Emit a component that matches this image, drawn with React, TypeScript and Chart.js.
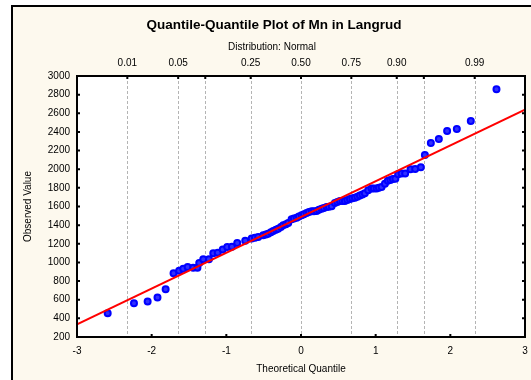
import { useEffect, useRef } from 'react';
import { Chart, registerables } from 'chart.js';

Chart.register(...registerables);

// Theoretical (normal) quantiles of the plotted points
const theoreticalQuantiles = [
  -2.589, -2.237, -2.054, -1.922, -1.813, -1.707, -1.632, -1.577, -1.518, -1.444,
  -1.387, -1.363, -1.309, -1.233, -1.175, -1.115, -1.048, -0.988, -0.925, -0.854,
  -0.747, -0.661, -0.617, -0.573, -0.506, -0.47, -0.439, -0.403, -0.372, -0.336,
  -0.305, -0.269, -0.238, -0.202, -0.171, -0.126, -0.095, -0.059, -0.028, 0.008,
  0.039, 0.075, 0.106, 0.142, 0.173, 0.209, 0.24, 0.276, 0.307, 0.343,
  0.373, 0.41, 0.454, 0.487, 0.521, 0.554, 0.588, 0.621, 0.655, 0.688,
  0.722, 0.755, 0.788, 0.822, 0.855, 0.9, 0.945, 0.976, 1.012, 1.043,
  1.079, 1.124, 1.163, 1.197, 1.23, 1.264, 1.301, 1.347, 1.395, 1.467,
  1.529, 1.605, 1.659, 1.739, 1.846, 1.957, 2.087, 2.274, 2.618,
];

const observedValues = [
  454, 561, 582, 625, 712, 883, 910, 931, 951, 944,
  942, 993, 1033, 1033, 1099, 1103, 1138, 1165, 1169, 1208,
  1232, 1258, 1265, 1272, 1291, 1300, 1309, 1325, 1337, 1350,
  1362, 1380, 1398, 1410, 1423, 1462, 1470, 1480, 1492, 1505,
  1517, 1530, 1540, 1548, 1550, 1551, 1565, 1577, 1585, 1594,
  1598, 1602, 1637, 1648, 1659, 1659, 1659, 1670, 1680, 1688,
  1695, 1705, 1717, 1730, 1741, 1774, 1792, 1792, 1792, 1800,
  1809, 1845, 1875, 1885, 1895, 1899, 1945, 1953, 1953, 1999,
  2003, 2020, 2152, 2281, 2324, 2410, 2431, 2517, 2857,
];

// Fitted normal reference line (end points at the axis limits)
const fitQuantiles = [-3, 3];
const fitValues = [336, 2640];

// Top axis: cumulative probabilities
const probLabels = ['0.01', '0.05', '0.25', '0.50', '0.75', '0.90', '0.99'];
const probLabelQuantiles = [-2.326, -1.645, -0.674, 0, 0.674, 1.282, 2.326];
const probGridQuantiles = [-2.326, -1.645, -1.282, -0.674, 0, 0.674, 1.282, 1.645, 2.326];

const titleText = 'Quantile-Quantile Plot of Mn in Langrud';
const subtitleText = 'Distribution: Normal';
const xTitle = 'Theoretical Quantile';
const yTitle = 'Observed Value';

const FONT = "'Liberation Sans', Arial, Helvetica, sans-serif";

export default function App() {
  const ref = useRef<HTMLCanvasElement>(null);

  useEffect(() => {
    document.body.style.margin = '0';
    const canvas = ref.current;
    if (!canvas) return;

    const decor = {
      id: 'decor',
      beforeDraw(chart: any) {
        const { ctx, width, height, chartArea: a } = chart;
        ctx.save();
        ctx.fillStyle = '#ffffff';
        ctx.fillRect(0, 0, width, height);
        ctx.fillStyle = '#fdf9ee';
        ctx.fillRect(11, 5, width - 11, height - 5);
        ctx.strokeStyle = '#000000';
        ctx.lineWidth = 2;
        ctx.beginPath();
        ctx.moveTo(12, height);
        ctx.lineTo(12, 6);
        ctx.lineTo(width, 6);
        ctx.stroke();
        ctx.fillStyle = '#ffffff';
        ctx.fillRect(a.left, a.top, a.right - a.left, a.bottom - a.top);

        ctx.fillStyle = '#000000';
        ctx.textAlign = 'center';
        ctx.textBaseline = 'middle';
        ctx.font = `bold 13.5px ${FONT}`;
        ctx.fillText(titleText, 274, 25);
        ctx.font = `10px ${FONT}`;
        ctx.fillText(subtitleText, 272, 47);
        ctx.fillText(xTitle, (a.left + a.right) / 2, 369);
        ctx.translate(28, (a.top + a.bottom) / 2);
        ctx.rotate(-Math.PI / 2);
        ctx.fillText(yTitle, 0, 0);
        ctx.restore();
      },
      beforeDatasetsDraw(chart: any) {
        const { ctx, chartArea: a } = chart;
        const xs = chart.scales.x;
        ctx.save();
        ctx.strokeStyle = '#b4b4b4';
        ctx.lineWidth = 1;
        ctx.setLineDash([3, 2]);
        for (const z of probGridQuantiles) {
          const px = Math.round(xs.getPixelForValue(z)) + 0.5;
          ctx.beginPath();
          ctx.moveTo(px, a.top);
          ctx.lineTo(px, a.bottom);
          ctx.stroke();
        }
        ctx.restore();
      },
      afterDraw(chart: any) {
        const { ctx, chartArea: a } = chart;
        const xs = chart.scales.x;
        const ys = chart.scales.y;
        ctx.save();
        ctx.strokeStyle = '#000000';
        ctx.lineWidth = 2;
        ctx.strokeRect(a.left, a.top, a.right - a.left, a.bottom - a.top);
        ctx.beginPath();
        for (const t of ys.ticks) {
          const py = ys.getPixelForValue(t.value);
          ctx.moveTo(a.left, py);
          ctx.lineTo(a.left + 3, py);
          ctx.moveTo(a.right, py);
          ctx.lineTo(a.right - 3, py);
        }
        for (const t of xs.ticks) {
          const px = xs.getPixelForValue(t.value);
          ctx.moveTo(px, a.bottom);
          ctx.lineTo(px, a.bottom - 3);
        }
        for (const z of probGridQuantiles) {
          const px = xs.getPixelForValue(z);
          ctx.moveTo(px, a.top);
          ctx.lineTo(px, a.top + 3);
        }
        ctx.stroke();
        ctx.restore();
      },
    };

    const points = theoreticalQuantiles.map((z, i) => ({ x: z, y: observedValues[i] }));
    const fit = fitQuantiles.map((z, i) => ({ x: z, y: fitValues[i] }));
    const tickFont = { family: FONT, size: 10 };
    const zeroPad = (s: any) => {
      s.paddingLeft = 0;
      s.paddingRight = 0;
      s.paddingTop = 0;
      s.paddingBottom = 0;
    };

    const chart = new Chart(canvas, {
      type: 'scatter',
      data: {
        datasets: [
          {
            label: 'Fit',
            type: 'line',
            data: fit,
            borderColor: '#ff0000',
            borderWidth: 2,
            pointRadius: 0,
            fill: false,
            order: 1,
          } as any,
          {
            label: 'Mn',
            data: points,
            pointRadius: 3,
            pointBorderWidth: 2,
            borderColor: '#0000ff',
            backgroundColor: '#3030ff',
            order: 2,
          },
        ],
      },
      plugins: [decor],
      options: {
        animation: false,
        responsive: false,
        devicePixelRatio: 1,
        layout: { padding: { left: 11, right: 6, top: 0, bottom: 0 } },
        plugins: {
          legend: { display: false },
          tooltip: { enabled: false },
          title: { display: false },
        },
        scales: {
          x: {
            type: 'linear',
            position: 'bottom',
            min: -3,
            max: 3,
            ticks: { stepSize: 1, color: '#000', font: tickFont, padding: 8, maxRotation: 0 },
            grid: { display: false, drawTicks: false },
            border: { display: false },
            afterFit: (s: any) => { s.height = 43; zeroPad(s); },
          },
          x2: {
            type: 'linear',
            position: 'top',
            min: -3,
            max: 3,
            afterBuildTicks: (s: any) => { s.ticks = probLabelQuantiles.map((v) => ({ value: v })); },
            ticks: {
              color: '#000',
              font: tickFont,
              padding: 7,
              autoSkip: false,
              maxRotation: 0,
              callback: (_v: any, i: number) => probLabels[i],
            },
            grid: { display: false, drawTicks: false },
            border: { display: false },
            afterFit: (s: any) => { s.height = 76; zeroPad(s); },
          },
          y: {
            type: 'linear',
            position: 'left',
            min: 200,
            max: 3000,
            ticks: {
              stepSize: 200,
              color: '#000',
              font: tickFont,
              padding: 7,
              callback: (v: any) => String(v),
            },
            grid: { display: false, drawTicks: false },
            border: { display: false },
            afterFit: (s: any) => { s.width = 66; zeroPad(s); },
          },
        },
      },
    });

    return () => chart.destroy();
  }, []);

  return <canvas ref={ref} width={531} height={380} style={{ display: 'block' }} />;
}
